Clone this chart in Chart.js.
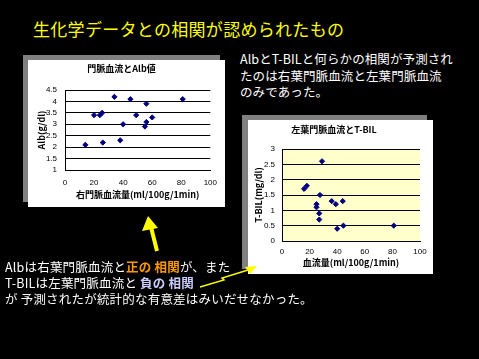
<!DOCTYPE html>
<html><head><meta charset="utf-8">
<script src="https://cdn.jsdelivr.net/npm/chart.js@4"></script>
<style>
html,body{margin:0;padding:0;background:#000;width:479px;height:359px;overflow:hidden;font-family:"Noto Sans CJK JP",sans-serif;}
.abs{position:absolute;}
.shadow{background:#808080;}
.box{background:#fff;}
#title{left:33px;top:18px;color:#ffff00;font-size:17px;letter-spacing:0.3px;line-height:22px;white-space:nowrap;}
#rtext{left:240px;top:51px;color:#fff;font-size:12.5px;letter-spacing:0.1px;line-height:16.5px;white-space:nowrap;}
#btext{left:5px;top:259px;color:#fff;font-size:12.5px;letter-spacing:0.2px;line-height:16px;white-space:nowrap;}
.pos{color:#ff9900;font-weight:bold;}
.neg{color:#ccccff;font-weight:bold;}
</style></head>
<body>
<div class="abs" id="title">生化学データとの相関が認められたもの</div>
<div class="abs" id="rtext">AlbとT-BILと何らかの相関が予測され<br>たのは右葉門脈血流と左葉門脈血流<br>のみであった。</div>

<div class="abs shadow" style="left:23px;top:55px;width:197px;height:147px;"></div>
<div class="abs box" style="left:28px;top:60px;width:197px;height:147px;"><canvas id="c1" width="197" height="147"></canvas></div>

<div class="abs shadow" style="left:242px;top:115px;width:185px;height:154px;"></div>
<div class="abs box" style="left:248px;top:120px;width:185px;height:154px;"><canvas id="c2" width="185" height="154"></canvas></div>

<div class="abs" id="btext">Albは右葉門脈血流と<span class="pos">正の 相関</span>が、また<br>T-BILは左葉門脈血流と <span class="neg">負の 相関</span><br>が 予測されたが統計的な有意差はみいだせなかった。</div>

<svg class="abs" style="left:0;top:0;" width="479" height="359">
  <line x1="157" y1="251" x2="151" y2="227" stroke="#ffff00" stroke-width="4"/>
  <polygon points="148,216 142,231 158,228" fill="#ffff00"/>
  <polyline points="200,287 224,280 222,278 248,270" fill="none" stroke="#ffff00" stroke-width="1.5"/>
  <polygon points="257,266 245,267 250,274" fill="#ffff00"/>
</svg>

<script>
// Chart 1: 門脈血流とAlb値
const albFlow = [14, 20, 24, 25.5, 26, 34, 38, 40, 45, 49, 55, 56, 56, 60, 81];
const albValue = [2.1, 3.4, 3.4, 3.5, 2.2, 4.2, 2.3, 3.0, 4.1, 3.4, 2.9, 3.9, 3.1, 3.3, 4.1];
// Chart 2: 左葉門脈血流とT-BIL
const tbilFlow = [16, 18, 29, 27.5, 25, 25, 27, 27, 36, 39, 44, 40, 44.5, 81];
const tbilValue = [1.7, 1.8, 2.6, 1.5, 1.2, 1.1, 0.9, 0.7, 1.3, 1.2, 1.3, 0.4, 0.5, 0.5];

const chart1Title = '門脈血流とAlb値';
const chart1XTitle = '右門脈血流量(ml/100g/1min)';
const chart1YTitle = 'Alb(g/dl)';
const chart2Title = '左葉門脈血流とT-BIL';
const chart2XTitle = '血流量(ml/100g/1min)';
const chart2YTitle = 'T-BIL(mg/dl)';

const FONT = '"Liberation Sans", Arial, sans-serif';
const JFONT = '"Noto Sans CJK JP", sans-serif';

const plotBg = {
  id: 'plotBg',
  beforeDraw(chart, args, opts) {
    if (!opts.color) return;
    const a = chart.chartArea, ctx = chart.ctx;
    ctx.save(); ctx.fillStyle = opts.color;
    ctx.fillRect(a.left, a.top, a.right - a.left, a.bottom - a.top);
    ctx.restore();
  }
};

function makeChart(id, xs, ys, cfg) {
  const pts = xs.map((x, i) => ({x: x, y: ys[i]}));
  return new Chart(document.getElementById(id), {
    type: 'scatter',
    data: { datasets: [{ data: pts, backgroundColor: '#000080', borderColor: '#000080',
      pointStyle: 'rectRot', pointRadius: 2.6, pointHoverRadius: 2.6, borderWidth: 1 }] },
    plugins: [plotBg],
    options: {
      responsive: false, animation: false,
      layout: { padding: { left: 0, right: cfg.padRight, top: 0, bottom: 0 } },
      plugins: {
        legend: { display: false }, tooltip: { enabled: false },
        plotBg: { color: cfg.bg },
        title: { display: true, text: cfg.title, color: '#000',
          font: { family: JFONT, size: 9, weight: 'bold', lineHeight: 1 },
          padding: { top: cfg.titleTop, bottom: cfg.titleBottom } }
      },
      scales: {
        x: {
          type: 'linear', min: 0, max: 100,
          ticks: { stepSize: 20, autoSkip: false, color: '#000', padding: cfg.xTickPad, font: { family: FONT, size: 8 }, maxRotation: 0 },
          grid: { display: false, drawTicks: false },
          border: { display: true, color: '#000', width: 1 },
          title: { display: true, text: cfg.xTitle, color: '#000',
            font: { family: JFONT, size: 9, weight: 'bold', lineHeight: 1.2 },
            padding: { top: 0, bottom: cfg.xTitlePad } },
          afterFit(s) { s.height = cfg.xHeight; }
        },
        y: {
          type: 'linear', min: cfg.yMin, max: cfg.yMax,
          ticks: { stepSize: 0.5, autoSkip: false, color: '#000', padding: cfg.yTickPad, font: { family: FONT, size: 8 },
            callback: v => String(Math.round(v * 10) / 10) },
          grid: { display: true, color: '#000', lineWidth: 1, drawTicks: false },
          border: { display: true, color: '#000', width: 1 },
          title: { display: true, text: cfg.yTitle, color: '#000',
            font: { family: JFONT, size: 9, weight: 'bold', lineHeight: 1.2 },
            padding: { top: cfg.yTitlePad, bottom: 0 } },
          afterFit(s) { s.width = cfg.yWidth; }
        }
      }
    }
  });
}

makeChart('c1', albFlow, albValue, {
  title: chart1Title, xTitle: chart1XTitle, yTitle: chart1YTitle,
  yMin: 1, yMax: 4.5, bg: null, padRight: 10, titleTop: 4, titleBottom: 17,
  xHeight: 37, xTickPad: 8, xTitlePad: 7, yWidth: 37, yTickPad: 8, yTitlePad: 8
});
makeChart('c2', tbilFlow, tbilValue, {
  title: chart2Title, xTitle: chart2XTitle, yTitle: chart2YTitle,
  yMin: 0, yMax: 3, bg: '#ffffcc', padRight: 13, titleTop: 5, titleBottom: 15,
  xHeight: 33, xTickPad: 6, xTitlePad: 6, yWidth: 34, yTickPad: 7, yTitlePad: 5
});
</script>
</body></html>
